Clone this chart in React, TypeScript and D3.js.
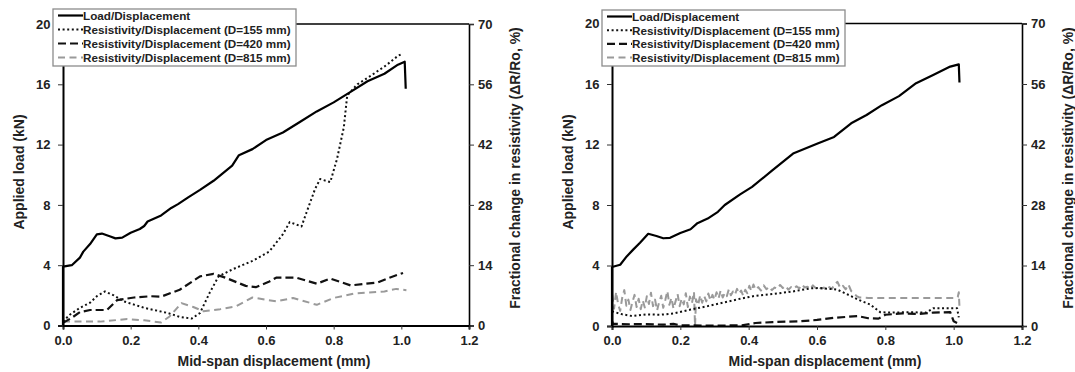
import React, { useEffect, useRef } from 'react';
import * as d3 from 'd3';

type Pt = [number, number];

// axis ticks
const xTicks = [0, 0.2, 0.4, 0.6, 0.8, 1.0, 1.2];
const loadTicks = [0, 4, 8, 12, 16, 20];
const resTicks = [0, 14, 28, 42, 56, 70];

const legendLabels = [
  'Load/Displacement',
  'Resistivity/Displacement (D=155 mm)',
  'Resistivity/Displacement (D=420 mm)',
  'Resistivity/Displacement (D=815 mm)',
];

// left panel: load in kN, resistivity change in %
const loadA: Pt[] = [
  [0, 0], [0, 3.9], [0.026, 4.0], [0.05, 4.5], [0.06, 4.9], [0.08, 5.4], [0.1, 6.05], [0.115, 6.1],
  [0.14, 5.9], [0.155, 5.78], [0.175, 5.83], [0.2, 6.15], [0.227, 6.4], [0.24, 6.6], [0.25, 6.9],
  [0.29, 7.3], [0.32, 7.8], [0.34, 8.05], [0.37, 8.5], [0.405, 9.0], [0.445, 9.6], [0.5, 10.6],
  [0.52, 11.3], [0.56, 11.7], [0.6, 12.3], [0.65, 12.8], [0.7, 13.5], [0.75, 14.2], [0.8, 14.8],
  [0.85, 15.5], [0.9, 16.2], [0.95, 16.7], [0.99, 17.3], [1.01, 17.5], [1.013, 15.7],
];
const r155A: Pt[] = [
  [0, 0.95], [0.02, 2.5], [0.05, 4.1], [0.08, 5.3], [0.1, 6.8], [0.124, 7.9], [0.15, 7.0], [0.18, 5.6],
  [0.24, 4.1], [0.31, 2.9], [0.345, 2.0], [0.38, 1.6], [0.405, 2.9], [0.434, 7.7], [0.46, 11.4],
  [0.5, 13], [0.56, 15], [0.61, 17.2], [0.65, 21.2], [0.67, 24], [0.705, 23], [0.72, 26.3],
  [0.745, 31.7], [0.76, 34], [0.79, 33.3], [0.81, 38.7], [0.83, 46], [0.84, 53.4], [0.87, 56],
  [0.91, 58], [0.955, 60.4], [0.99, 62.6], [1.0, 63],
];
const r420A: Pt[] = [
  [0, 0.6], [0.026, 1.8], [0.05, 3.1], [0.08, 3.6], [0.13, 3.6], [0.16, 5.9], [0.21, 6.5], [0.26, 6.8],
  [0.29, 6.7], [0.345, 8.3], [0.405, 11.4], [0.445, 12], [0.48, 11.1], [0.54, 9.2], [0.57, 8.9],
  [0.61, 10.2], [0.63, 11.1], [0.69, 11.1], [0.75, 9.7], [0.79, 10.9], [0.85, 9.3], [0.93, 10],
  [0.965, 11.1], [1.005, 12.2],
];
const r815A: Pt[] = [
  [0, 0.9], [0.03, 0.9], [0.11, 0.9], [0.19, 1.5], [0.24, 1.2], [0.29, 0.7], [0.315, 2.1], [0.35, 5.2],
  [0.385, 4.3], [0.415, 3.3], [0.465, 3.8], [0.51, 4.4], [0.56, 6.5], [0.63, 5.6], [0.68, 6.4],
  [0.75, 4.8], [0.8, 6.4], [0.86, 7.4], [0.95, 7.9], [0.985, 8.5], [1.015, 8.2],
];

// right panel
const loadB: Pt[] = [
  [0, 0], [0, 3.9], [0.024, 4.05], [0.043, 4.6], [0.062, 5.05], [0.082, 5.5], [0.106, 6.1], [0.13, 5.95],
  [0.15, 5.8], [0.17, 5.83], [0.2, 6.15], [0.23, 6.4], [0.25, 6.8], [0.28, 7.1], [0.31, 7.55], [0.33, 8.0],
  [0.375, 8.7], [0.41, 9.2], [0.47, 10.3], [0.53, 11.4], [0.6, 12.05], [0.65, 12.5], [0.7, 13.4],
  [0.745, 13.95], [0.79, 14.6], [0.84, 15.2], [0.89, 16.05], [0.94, 16.6], [0.99, 17.15], [1.015, 17.3],
  [1.017, 16.1],
];
const r155B: Pt[] = [
  [0, 3.4], [0.03, 2.7], [0.06, 2.3], [0.1, 2.7], [0.14, 2.6], [0.18, 2.9], [0.23, 3.8], [0.28, 4.6],
  [0.325, 5.4], [0.375, 6.3], [0.42, 7.0], [0.47, 7.4], [0.53, 8.0], [0.58, 8.7], [0.61, 8.8], [0.66, 8.4],
  [0.7, 6.9], [0.72, 6.1], [0.755, 5.0], [0.785, 3.2], [0.81, 3.1], [0.87, 3.2], [0.92, 3.1], [0.94, 4.1],
  [1.01, 4.1], [1.015, 2.0],
];
const r420B: Pt[] = [
  [0, 1.2], [0.003, 0.5], [0.05, 0.4], [0.1, 0.45], [0.15, 0.3], [0.18, 0.5], [0.2, 0.15], [0.3, 0.1],
  [0.38, 0.15], [0.42, 0.7], [0.47, 0.9], [0.55, 1.1], [0.6, 1.4], [0.65, 1.9], [0.72, 2.3], [0.75, 1.8],
  [0.78, 1.7], [0.8, 2.6], [0.85, 2.9], [0.9, 2.8], [0.94, 3.1], [0.99, 3.2], [1.0, 1.1], [1.01, 0.7],
];
const r815B: Pt[] = [
  [0, 0], [0, 7.6], [0.006, 4.0], [0.012, 7.9], [0.018, 5.0], [0.024, 3.5], [0.03, 6.6], [0.036, 8.3],
  [0.042, 4.7], [0.048, 6.1], [0.054, 3.7], [0.06, 5.6], [0.066, 7.2], [0.072, 4.4], [0.078, 6.3],
  [0.084, 3.9], [0.09, 5.9], [0.096, 4.3], [0.102, 6.9], [0.108, 5.1], [0.114, 7.7], [0.12, 4.6],
  [0.126, 6.1], [0.132, 3.6], [0.138, 5.5], [0.144, 7.0], [0.15, 4.2], [0.156, 6.0], [0.162, 8.1],
  [0.168, 4.9], [0.174, 6.5], [0.18, 4.0], [0.186, 5.7], [0.192, 7.4], [0.198, 4.6], [0.204, 6.3],
  [0.21, 5.0], [0.216, 7.6], [0.222, 4.4], [0.228, 6.8], [0.234, 5.3], [0.24, 7.9], [0.243, 0],
  [0.246, 6.2], [0.252, 4.8], [0.258, 7.1], [0.264, 5.4], [0.27, 6.9], [0.276, 5.7], [0.282, 7.5],
  [0.288, 5.9], [0.294, 7.2], [0.3, 6.1], [0.306, 7.8], [0.312, 6.4], [0.318, 8.2], [0.324, 6.6],
  [0.33, 7.6], [0.336, 6.9], [0.342, 8.5], [0.348, 7.1], [0.354, 8.0], [0.36, 7.3], [0.366, 8.6],
  [0.372, 7.5], [0.378, 8.2], [0.384, 7.0], [0.39, 8.4], [0.396, 7.6], [0.402, 9.3], [0.408, 8.1],
  [0.414, 9.6], [0.42, 8.4], [0.428, 9.0], [0.436, 8.2], [0.444, 9.4], [0.452, 8.5], [0.46, 9.1],
  [0.468, 8.3], [0.476, 8.9], [0.484, 8.6], [0.492, 9.5], [0.5, 8.8], [0.508, 9.3], [0.516, 8.4],
  [0.524, 9.0], [0.532, 8.6], [0.54, 9.2], [0.548, 8.7], [0.556, 9.6], [0.564, 8.9], [0.572, 9.1],
  [0.58, 8.5], [0.588, 9.4], [0.596, 8.8], [0.604, 9.2], [0.612, 8.6], [0.62, 8.9], [0.628, 8.3],
  [0.636, 9.0], [0.644, 8.6], [0.652, 9.8], [0.66, 10.2], [0.668, 8.8], [0.676, 9.3], [0.684, 8.5],
  [0.692, 9.6], [0.7, 8.1], [0.708, 7.6], [0.716, 6.9], [0.724, 6.6], [0.75, 6.5], [0.8, 6.5],
  [0.9, 6.5], [1.0, 6.5], [1.012, 6.7], [1.015, 7.8], [1.017, 4.3],
];

const FONT = '"Liberation Sans", Arial, sans-serif';
const INK = '#222';

// line look of each legend entry
const looks = [
  { stroke: '#000', width: 2.2, dash: '' },
  { stroke: '#111', width: 2, dash: '2,2.6' },
  { stroke: '#111', width: 2.2, dash: '8,4' },
  { stroke: '#9a9a9a', width: 2, dash: '7,4.5' },
];

const panels = [
  { left: 63, right: 469, top: 24, bottom: 325.5, legend: [53, 9, 296, 66], series: [loadA, r155A, r420A, r815A] },
  { left: 612, right: 1022, top: 23.5, bottom: 326, legend: [602, 10, 845, 66], series: [loadB, r155B, r420B, r815B] },
];

function drawPanel(svg: any, p: any) {
  const x = d3.scaleLinear().domain([0, 1.2]).range([p.left, p.right]);
  const yL = d3.scaleLinear().domain([0, 20]).range([p.bottom, p.top]);
  const yR = d3.scaleLinear().domain([0, 70]).range([p.bottom, p.top]);
  const g = svg.append('g');

  const lineL = d3.line<Pt>().x(d => x(d[0])).y(d => yL(d[1]));
  const lineR = d3.line<Pt>().x(d => x(d[0])).y(d => yR(d[1]));

  // draw grey first so black lines sit on top
  [3, 2, 1, 0].forEach(i => {
    const lk = looks[i];
    g.append('path')
      .datum(p.series[i])
      .attr('d', i === 0 ? lineL : lineR)
      .attr('fill', 'none')
      .attr('stroke', lk.stroke)
      .attr('stroke-width', lk.width)
      .attr('stroke-dasharray', lk.dash || null)
      .attr('stroke-linejoin', 'round');
  });

  // top and right frame
  g.append('line').attr('x1', p.left).attr('x2', p.right).attr('y1', p.top).attr('y2', p.top)
    .attr('stroke', '#000').attr('stroke-width', 1.6);

  const styleAxis = (a: any, size: number) => {
    a.select('.domain').attr('stroke', '#000').attr('stroke-width', 2);
    a.selectAll('.tick line').attr('stroke', '#333').attr('stroke-width', 1);
    a.selectAll('text').attr('font-family', FONT).attr('font-weight', 'bold')
      .attr('font-size', size).attr('fill', INK);
  };

  const ax = g.append('g').attr('transform', `translate(0,${p.bottom})`)
    .call(d3.axisBottom(x).tickValues(xTicks).tickFormat(d3.format('.1f')).tickSizeOuter(0).tickSize(4).tickPadding(6));
  styleAxis(ax, 13);

  const ayL = g.append('g').attr('transform', `translate(${p.left},0)`)
    .call(d3.axisLeft(yL).tickValues(loadTicks).tickFormat(d3.format('d')).tickSizeOuter(0).tickSize(5).tickPadding(7.5));
  styleAxis(ayL, 13);

  const ayR = g.append('g').attr('transform', `translate(${p.right},0)`)
    .call(d3.axisRight(yR).tickValues(resTicks).tickFormat(d3.format('d')).tickSizeOuter(0).tickSize(5).tickPadding(4));
  styleAxis(ayR, 13);
  ayR.select('.domain').attr('stroke-width', 1.6);

  // axis titles
  const title = (t: string, tx: number, ty: number, rot: number) =>
    g.append('text').text(t)
      .attr('transform', `translate(${tx},${ty}) rotate(${rot})`)
      .attr('text-anchor', 'middle').attr('dominant-baseline', 'central')
      .attr('font-family', FONT).attr('font-weight', 'bold').attr('font-size', 14).attr('fill', INK);

  title('Mid-span displacement (mm)', (p.left + p.right) / 2 + 8, 361, 0);
  title('Applied load (kN)', p.left - 44, 172, -90);
  title('Fractional change in resistivity (\u0394R/Ro, %)', p.right + 46, 168, -90);

  // legend
  const [lx0, ly0, lx1, ly1] = p.legend;
  const lg = g.append('g');
  lg.append('rect').attr('x', lx0).attr('y', ly0).attr('width', lx1 - lx0).attr('height', ly1 - ly0)
    .attr('fill', '#fff').attr('stroke', '#8c8c8c').attr('stroke-width', 1.3);
  const rowY = d3.scaleLinear().domain([0, 3]).range([ly0 + 6.5, ly1 - 8.5]);
  legendLabels.forEach((lab, i) => {
    const lk = looks[i];
    const yy = rowY(i);
    lg.append('line').attr('x1', lx0 + 5).attr('x2', lx0 + 30).attr('y1', yy).attr('y2', yy)
      .attr('stroke', lk.stroke).attr('stroke-width', lk.width).attr('stroke-dasharray', lk.dash || null);
    lg.append('text').text(lab).attr('x', lx0 + 30).attr('y', yy)
      .attr('dominant-baseline', 'central')
      .attr('font-family', FONT).attr('font-weight', 'bold').attr('font-size', 11.7).attr('fill', INK);
  });
}

const App = () => {
  const ref = useRef<SVGSVGElement>(null);

  useEffect(() => {
    const svg = d3.select(ref.current);
    svg.selectAll('*').remove();
    panels.forEach(p => drawPanel(svg, p));
  }, []);

  return (
    <svg
      ref={ref}
      width={1075}
      height={372}
      style={{ position: 'absolute', left: 0, top: 0, background: '#fff' }}
    />
  );
};

export default App;
